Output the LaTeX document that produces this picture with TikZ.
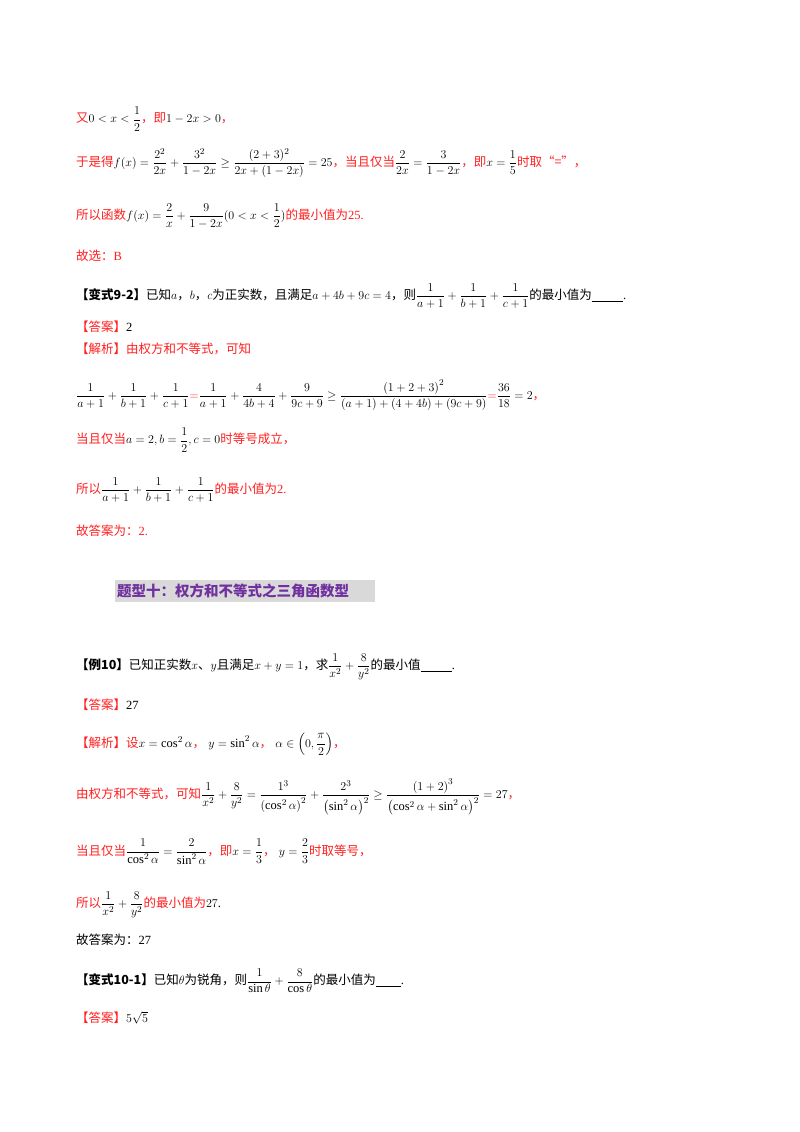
\documentclass[tikz,border=0pt]{standalone}
\usepackage{amsmath,amssymb}
\usepackage{fontspec}
\setmainfont{Liberation Serif}
\newfontfamily\cjk{Noto Sans CJK SC}
\definecolor{rd}{HTML}{FF2020}
\definecolor{pp}{HTML}{7030A0}
\newcommand{\zr}[1]{\textcolor{rd}{\cjk #1}}
\newcommand{\zk}[1]{{\cjk #1}}
\tikzset{ln/.style={anchor=west,inner sep=0pt,font=\fontsize{12.5}{14}\selectfont}}
\begin{document}
\begin{tikzpicture}[x=1pt,y=-1pt]
\useasboundingbox[fill=white] (0,0) rectangle (800,1132);
\node[ln] (l1) at (76,119) {\zr{又}$0<x<\dfrac12$\zr{，即}$1-2x>0$\zr{，}};
\node[ln] (l2) at (76,163) {\zr{于是得}$f(x)=\dfrac{2^2}{2x}+\dfrac{3^2}{1-2x}\ge\dfrac{(2+3)^2}{2x+(1-2x)}=25$\zr{，当且仅当}$\dfrac{2}{2x}=\dfrac{3}{1-2x}$\zr{，即}$x=\dfrac15$\zr{时取“=”，}};
\node[ln] (l3) at (76,216) {\zr{所以函数}$f(x)=\dfrac2x+\dfrac{9}{1-2x}(0<x<\dfrac12)$\zr{的最小值为}\textcolor{rd}{25.}};
\node[ln] (l4) at (76,256) {\zr{故选：}\textcolor{rd}{B}};
\node[ln] (l5) at (76,296) {\zk{\textbf{【变式9-2】}已知}$a$\zk{，}$b$\zk{，}$c$\zk{为正实数，且满足}$a+4b+9c=4$\zk{，则}$\dfrac{1}{a+1}+\dfrac{1}{b+1}+\dfrac{1}{c+1}$\zk{的最小值为}\underline{\hspace{2.5em}}.};
\node[ln] (l6) at (76,327) {\zr{【答案】}2};
\node[ln] (l7) at (76,349) {\zr{【解析】由权方和不等式，可知}};
\node[ln] (l8) at (76,395) {$\dfrac{1}{a+1}+\dfrac{1}{b+1}+\dfrac{1}{c+1}\textcolor{rd}{=}\dfrac{1}{a+1}+\dfrac{4}{4b+4}+\dfrac{9}{9c+9}\ge\dfrac{\left(1+2+3\right)^2}{\left(a+1\right)+\left(4+4b\right)+\left(9c+9\right)}\textcolor{rd}{=}\dfrac{36}{18}=2$\zr{，}};
\node[ln] (l9) at (76,440) {\zr{当且仅当}$a=2,b=\dfrac12,c=0$\zr{时等号成立，}};
\node[ln] (l10) at (76,490) {\zr{所以}$\dfrac{1}{a+1}+\dfrac{1}{b+1}+\dfrac{1}{c+1}$\zr{的最小值为}\textcolor{rd}{2.}};
\node[ln] (l11) at (76,531) {\zr{故答案为：}\textcolor{rd}{2.}};
\fill[gray!30] (115,580) rectangle (375,602);
\node[ln,font=\fontsize{14.5}{16}\selectfont,text=pp] (h) at (117,591) {\zk{\textbf{题型十：权方和不等式之三角函数型}}};
\node[ln] (l12) at (76,667) {\zk{\textbf{【例10】}已知正实数}$x$\zk{、}$y$\zk{且满足}$x+y=1$\zk{，求}$\dfrac{1}{x^2}+\dfrac{8}{y^2}$\zk{的最小值}\underline{\hspace{2.5em}}.};
\node[ln] (l13) at (76,705) {\zr{【答案】}27};
\node[ln] (l14) at (76,744) {\zr{【解析】设}$x=\cos^2\alpha$\zr{，}$\;y=\sin^2\alpha$\zr{，}$\;\alpha\in\left(0,\dfrac{\pi}{2}\right)$\zr{，}};
\node[ln] (l15) at (76,797) {\zr{由权方和不等式，可知}$\dfrac{1}{x^2}+\dfrac{8}{y^2}=\dfrac{1^3}{\left(\cos^2\alpha\right)^2}+\dfrac{2^3}{\left(\sin^2\alpha\right)^2}\ge\dfrac{\left(1+2\right)^3}{\left(\cos^2\alpha+\sin^2\alpha\right)^2}=27$\zr{，}};
\node[ln] (l16) at (76,852) {\zr{当且仅当}$\dfrac{1}{\cos^2\alpha}=\dfrac{2}{\sin^2\alpha}$\zr{，即}$x=\dfrac13$\zr{，}$\;y=\dfrac23$\zr{时取等号，}};
\node[ln] (l17) at (76,905) {\zr{所以}$\dfrac{1}{x^2}+\dfrac{8}{y^2}$\zr{的最小值为}$27$.};
\node[ln] (l18) at (76,940) {\zk{故答案为：}27};
\node[ln] (l19) at (76,981) {\zk{\textbf{【变式10-1】}已知}$\theta$\zk{为锐角，则}$\dfrac{1}{\sin\theta}+\dfrac{8}{\cos\theta}$\zk{的最小值为}\underline{\hspace{2em}}.};
\node[ln] (l20) at (76,1018) {\zr{【答案】}$5\sqrt5$};
\end{tikzpicture}
\end{document}
